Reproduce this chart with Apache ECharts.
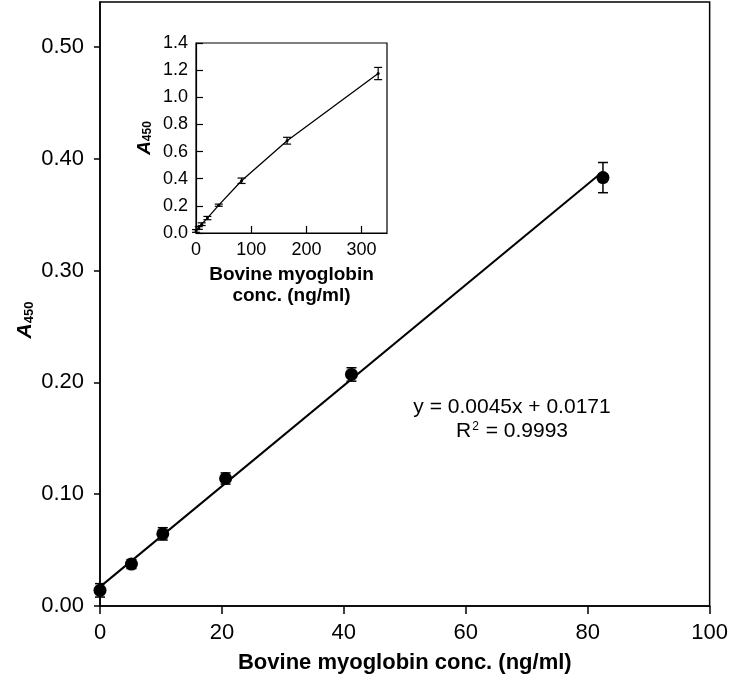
<!DOCTYPE html>
<html>
<head>
<meta charset="utf-8">
<script src="https://cdn.jsdelivr.net/npm/echarts@6/dist/echarts.min.js"></script>
<style>
  html, body { margin: 0; padding: 0; background: #fff; }
  #chart { width: 731px; height: 682px; }
</style>
</head>
<body>
<div id="chart"></div>
<script>
// main calibration range (ng/ml vs A450)
const concMain = [0, 5.16, 10.3, 20.6, 41.25, 82.5];
const absMain = [0.014, 0.0375, 0.0645, 0.114, 0.207, 0.383];
const errMain = [0.006, 0.004, 0.0055, 0.005, 0.006, 0.0135];

// regression line end points
const fitX = [0, 82.5];
const fitY = [0.0171, 0.3884];

// inset, full range
const concInset = [0, 5.16, 10.3, 20.6, 41.25, 82.5, 165, 330];
const absInset = [0.015, 0.037, 0.065, 0.11, 0.205, 0.385, 0.68, 1.175];
const errInset = [0.01, 0.01, 0.01, 0.012, 0.008, 0.02, 0.025, 0.045];

const mainYTicks = [0, 0.1, 0.2, 0.3, 0.4, 0.5];
const insetXTicks = [0, 100, 200, 300];

const FONT = '"Liberation Sans", Arial, sans-serif';

const zip = (xs, ys) => xs.map((x, i) => [x, ys[i]]);
const bars = (xs, ys, es) => xs.map((x, i) => [x, ys[i] - es[i], ys[i] + es[i]]);

function errorBars(capHalf, lw) {
  return function (params, api) {
    const x = api.value(0);
    const top = api.coord([x, api.value(2)]);
    const bot = api.coord([x, api.value(1)]);
    const style = { stroke: '#000', lineWidth: lw };
    return {
      type: 'group',
      children: [
        { type: 'line', shape: { x1: top[0], y1: top[1], x2: bot[0], y2: bot[1] }, style },
        { type: 'line', shape: { x1: top[0] - capHalf, y1: top[1], x2: top[0] + capHalf, y2: top[1] }, style },
        { type: 'line', shape: { x1: bot[0] - capHalf, y1: bot[1], x2: bot[0] + capHalf, y2: bot[1] }, style }
      ]
    };
  };
}

const chart = echarts.init(document.getElementById('chart'));

const axisLine = { lineStyle: { color: '#000', width: 1.5 } };
const subRich = {
  a: { fontFamily: FONT, fontStyle: 'italic', fontWeight: 'bold', fontSize: 21, color: '#000' },
  s: { fontFamily: FONT, fontWeight: 'bold', fontSize: 13, color: '#000', verticalAlign: 'bottom', padding: [6, 0, 0, 0] }
};
const subRichSmall = {
  a: { fontFamily: FONT, fontStyle: 'italic', fontWeight: 'bold', fontSize: 19, color: '#000' },
  s: { fontFamily: FONT, fontWeight: 'bold', fontSize: 12, color: '#000', verticalAlign: 'bottom', padding: [5, 0, 0, 0] }
};

chart.setOption({
  animation: false,
  backgroundColor: '#fff',
  textStyle: { fontFamily: FONT },
  grid: [
    { left: 100, top: 2, right: 20, bottom: 76, show: true, borderColor: '#000', borderWidth: 1.5 },
    { left: 196, top: 43, width: 191, height: 190, show: true, borderColor: '#000', borderWidth: 1.2 }
  ],
  xAxis: [
    {
      gridIndex: 0, type: 'value', min: 0, max: 100, interval: 20,
      axisLine: axisLine,
      axisTick: { length: 8, lineStyle: { color: '#000', width: 1.5 } },
      axisLabel: { color: '#000', fontSize: 22, margin: 16, fontFamily: FONT },
      splitLine: { show: false },
      name: 'Bovine myoglobin conc. (ng/ml)',
      nameLocation: 'middle', nameGap: 46,
      nameTextStyle: { color: '#000', fontSize: 22, fontWeight: 'bold', fontFamily: FONT }
    },
    {
      gridIndex: 1, type: 'value', min: 0, max: 346,
      axisLine: { lineStyle: { color: '#000', width: 1.2 } },
      axisTick: { inside: true, length: 7, customValues: insetXTicks, lineStyle: { color: '#000', width: 1.2 } },
      axisLabel: { color: '#000', fontSize: 18, margin: 8, fontFamily: FONT, customValues: insetXTicks },
      splitLine: { show: false },
      name: 'Bovine myoglobin\nconc. (ng/ml)',
      nameLocation: 'middle', nameGap: 31,
      nameTextStyle: { color: '#000', fontSize: 19, fontWeight: 'bold', fontFamily: FONT, lineHeight: 21 }
    }
  ],
  yAxis: [
    {
      gridIndex: 0, type: 'value', min: 0, max: 0.54,
      axisLine: axisLine,
      axisTick: { length: 6, customValues: mainYTicks, lineStyle: { color: '#000', width: 1.5 } },
      axisLabel: { color: '#000', fontSize: 22, margin: 16, fontFamily: FONT, customValues: mainYTicks,
        formatter: v => v.toFixed(2) },
      splitLine: { show: false },
      name: '{a|A}{s|450}',
      nameLocation: 'middle', nameGap: 64, nameMoveOverlap: false,
      nameTextStyle: { rich: subRich, padding: [0, 32, 0, 0] }
    },
    {
      gridIndex: 1, type: 'value', min: 0, max: 1.4, interval: 0.2,
      axisLine: { lineStyle: { color: '#000', width: 1.2 } },
      axisTick: { inside: true, length: 7, lineStyle: { color: '#000', width: 1.2 } },
      axisLabel: { color: '#000', fontSize: 18, margin: 8, fontFamily: FONT, formatter: v => v.toFixed(1) },
      splitLine: { show: false },
      name: '{a|A}{s|450}',
      nameLocation: 'middle', nameGap: 42,
      nameTextStyle: { rich: subRichSmall }
    }
  ],
  series: [
    {
      type: 'line', xAxisIndex: 0, yAxisIndex: 0,
      data: zip(fitX, fitY),
      symbol: 'none',
      lineStyle: { color: '#000', width: 2 }
    },
    {
      type: 'custom', xAxisIndex: 0, yAxisIndex: 0,
      data: bars(concMain, absMain, errMain),
      encode: { x: 0, y: [1, 2] },
      renderItem: errorBars(5, 1.5)
    },
    {
      type: 'scatter', xAxisIndex: 0, yAxisIndex: 0,
      data: zip(concMain, absMain),
      symbol: 'circle', symbolSize: 13,
      itemStyle: { color: '#000', opacity: 1 }
    },
    {
      type: 'line', xAxisIndex: 1, yAxisIndex: 1,
      data: zip(concInset, absInset),
      symbol: 'circle', symbolSize: 3, showSymbol: true,
      itemStyle: { color: '#000' },
      lineStyle: { color: '#000', width: 1.3 }
    },
    {
      type: 'custom', xAxisIndex: 1, yAxisIndex: 1,
      data: bars(concInset, absInset, errInset),
      encode: { x: 0, y: [1, 2] },
      renderItem: errorBars(4, 1.2)
    }
  ],
  graphic: [
    {
      type: 'text', x: 512, y: 407,
      style: { text: 'y = 0.0045x + 0.0171', fill: '#000', font: '21px ' + FONT, align: 'center', verticalAlign: 'middle' }
    },
    {
      type: 'text', x: 512, y: 431,
      style: { text: 'R{sup|2} = 0.9993', fill: '#000', font: '21px ' + FONT, align: 'center', verticalAlign: 'middle',
        rich: { sup: { fontSize: 12, fontFamily: FONT, verticalAlign: 'top', padding: [0, 1, 8, 1] } } }
    }
  ]
});
</script>
</body>
</html>
